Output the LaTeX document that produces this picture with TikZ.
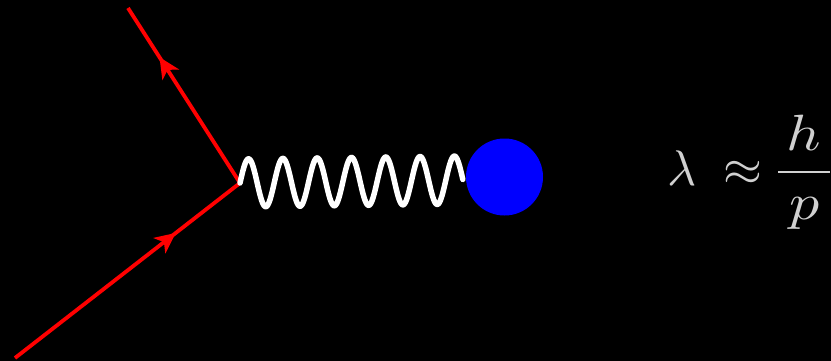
\documentclass[tikz,border=0pt]{standalone}
\usepackage{graphicx}
\usetikzlibrary{decorations.markings}
\definecolor{formulagray}{RGB}{208,208,208}
\tikzset{
  fermion/.style={draw=red, line width=3.8pt,
    postaction={decorate, decoration={markings,
      mark=at position #1 with {\fill[red] (7pt,0pt) -- (-14pt,10pt) -- (-8pt,0pt) -- (-14pt,-10pt) -- cycle;}}}},
  photon/.style={draw=white, line width=5.5pt, line cap=round},
  blob/.style={circle, fill=blue, minimum size=77pt, inner sep=0pt},
  formula/.style={text=formulagray, scale=5, inner sep=0pt, anchor=base west}
}
\begin{document}
\begin{tikzpicture}[x=1pt,y=-1pt]
\fill[black] (0,0) rectangle (831,361);
\useasboundingbox (0,0) rectangle (831,361);
\coordinate (in) at (15,358);
\coordinate (v) at (240,183);
\coordinate (out) at (128,8);
\node[blob] (b) at (504.5,177) {};
\draw[fermion=0.69] (in) -- (v);
\draw[fermion=0.685] (v) -- (out);
\begin{scope}[shift={(v)}]
\draw[photon] plot[domain=0:6.5,samples=400] ({\x*34.3},{-3*\x/6.5-24*sin(\x*360)});
\end{scope}
\node[formula] (f) at (666,185) {$\displaystyle\lambda\mskip5mu\approx\mskip-2mu\scalebox{1.2}[1.02]{$\displaystyle\frac{\hbox to 8.6pt{\hss$h$\hss}}{p}$}$};
\end{tikzpicture}
\end{document}
